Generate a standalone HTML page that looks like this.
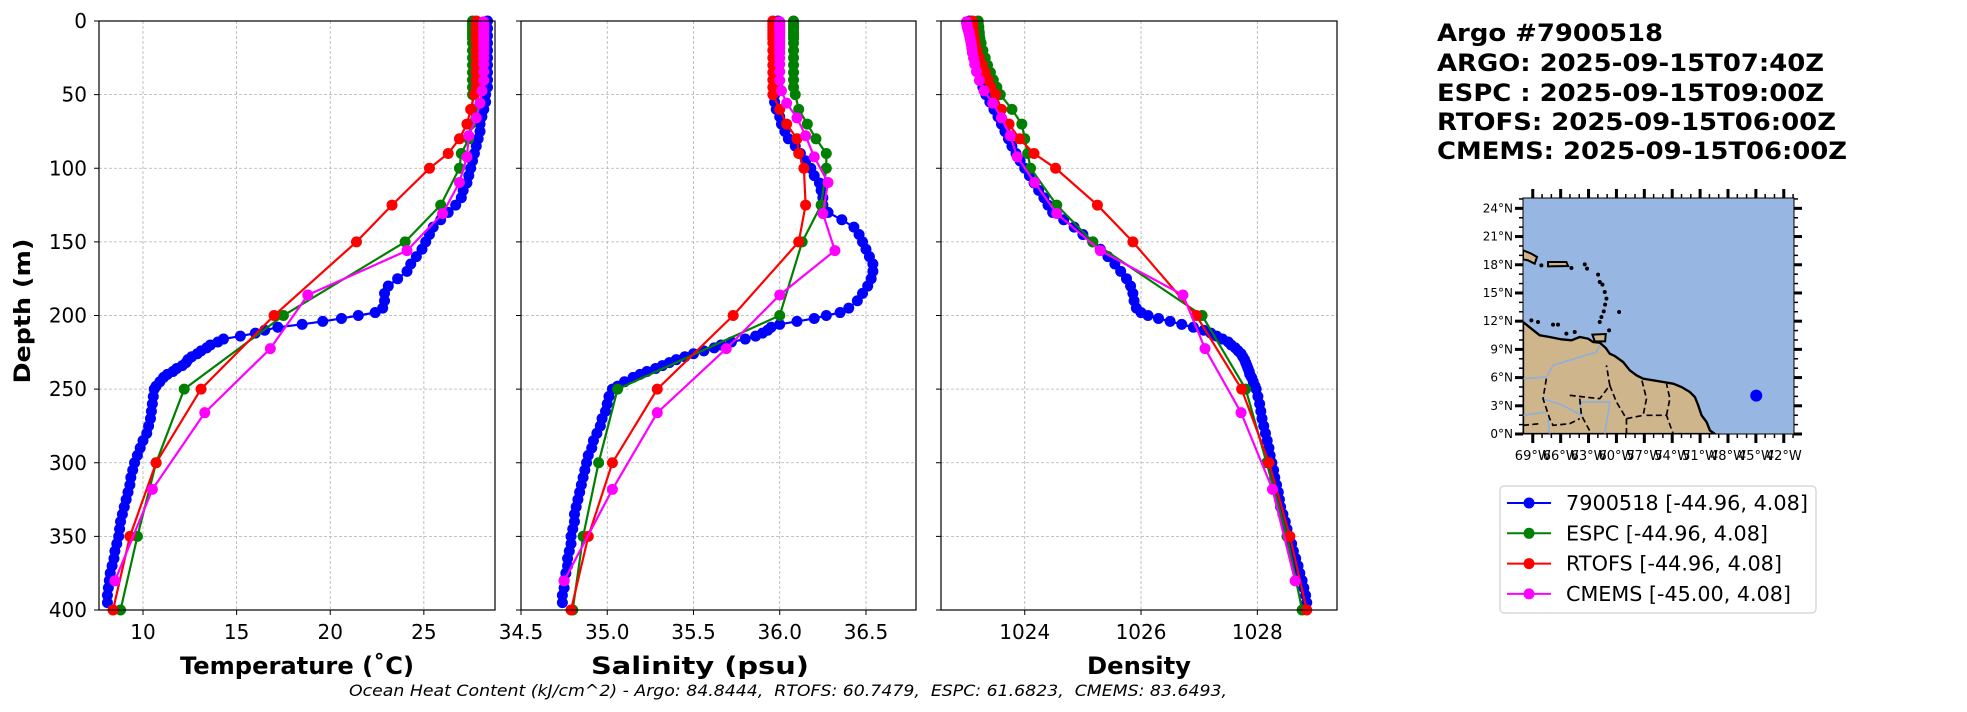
<!DOCTYPE html>
<html><head><meta charset="utf-8"><style>
html,body{margin:0;padding:0;background:#fff;}
svg{display:block;}
text{font-family:"DejaVu Sans","Liberation Sans",sans-serif;}
</style></head><body>
<svg id="fig" width="1967" height="712" viewBox="0 0 1967 712" xmlns="http://www.w3.org/2000/svg">
<rect width="1967" height="712" fill="#fff"/>
<g id="titles">
<text x="1437" y="41" font-size="24" font-weight="bold" textLength="226" lengthAdjust="spacingAndGlyphs">Argo #7900518</text>
<text x="1437" y="71" font-size="24" font-weight="bold" textLength="387" lengthAdjust="spacingAndGlyphs">ARGO: 2025-09-15T07:40Z</text>
<text x="1437" y="101" font-size="24" font-weight="bold" textLength="387" lengthAdjust="spacingAndGlyphs">ESPC : 2025-09-15T09:00Z</text>
<text x="1437" y="130" font-size="24" font-weight="bold" textLength="399" lengthAdjust="spacingAndGlyphs">RTOFS: 2025-09-15T06:00Z</text>
<text x="1437" y="159" font-size="24" font-weight="bold" textLength="410" lengthAdjust="spacingAndGlyphs">CMEMS: 2025-09-15T06:00Z</text>
</g>
<text x="349" y="696" font-size="16" font-style="italic" textLength="878" lengthAdjust="spacingAndGlyphs" xml:space="preserve">Ocean Heat Content (kJ/cm^2) - Argo: 84.8444, &#160;RTOFS: 60.7479, &#160;ESPC: 61.6823, &#160;CMEMS: 83.6493,</text>
<text x="0" y="0" font-size="22" font-weight="bold" text-anchor="middle" transform="translate(30,311) rotate(-90)" textLength="145" lengthAdjust="spacingAndGlyphs">Depth (m)</text>
<g id="panels"></g>
<g id="map"></g>
<g id="legend"></g>
</svg>
<script>
// ---------- DATA ----------
const argoDepth=[0,5,10,15,20,25,30,35,40,45,50,55,60,65,70,75,80,85,90,95,100,105,110,115,120,125,130,135,140,145,150,155,160,165,170,175,180,185,190,195,198,200,202,204,206,208,210,212,214,216,218,220,222,224,226,228,230,232,234,236,238,240,242,245,248,250,255,260,265,270,275,280,285,290,295,300,305,310,315,320,325,330,335,340,345,350,355,360,365,370,375,380,385,390,395];
const argoTemp=[28.4,28.4,28.4,28.4,28.4,28.4,28.4,28.4,28.4,28.4,28.3,28.3,28.2,28.1,28.0,28.0,27.9,27.8,27.7,27.6,27.5,27.4,27.3,27.1,27.0,26.7,26.3,25.9,25.5,25.3,25.1,24.9,24.6,24.3,24.1,23.6,23.1,22.9,22.9,22.8,22.4,21.5,20.6,19.6,18.5,17.2,16.5,16.0,15.2,14.3,14.0,13.6,13.4,13.1,12.9,12.6,12.4,12.3,12.1,11.8,11.6,11.3,11.1,10.9,10.7,10.6,10.55,10.5,10.45,10.4,10.3,10.2,10.0,9.85,9.7,9.55,9.45,9.35,9.3,9.2,9.1,9.0,8.9,8.8,8.75,8.7,8.6,8.5,8.45,8.35,8.25,8.2,8.15,8.1,8.1];
const argoSal=[35.99,35.99,35.99,35.99,35.99,35.99,35.99,35.99,35.99,35.99,35.97,35.97,35.98,36.0,36.01,36.03,36.05,36.09,36.12,36.15,36.18,36.2,36.23,36.24,36.25,36.25,36.28,36.36,36.43,36.46,36.48,36.5,36.52,36.54,36.54,36.53,36.51,36.48,36.45,36.4,36.35,36.27,36.2,36.1,36.0,35.95,35.93,35.9,35.86,35.8,35.72,35.66,35.62,35.56,35.5,35.45,35.4,35.36,35.32,35.28,35.23,35.19,35.15,35.1,35.06,35.03,35.01,35.0,34.99,34.97,34.96,34.94,34.92,34.91,34.89,34.88,34.87,34.86,34.85,34.84,34.83,34.82,34.81,34.81,34.8,34.79,34.79,34.78,34.77,34.77,34.76,34.75,34.75,34.74,34.74];
const argoDens=[1023.05,1023.06,1023.08,1023.1,1023.12,1023.14,1023.17,1023.2,1023.24,1023.28,1023.33,1023.4,1023.47,1023.54,1023.6,1023.66,1023.72,1023.78,1023.85,1023.92,1024.0,1024.08,1024.16,1024.24,1024.33,1024.4,1024.48,1024.67,1024.85,1025.0,1025.17,1025.3,1025.43,1025.55,1025.65,1025.75,1025.82,1025.86,1025.88,1025.92,1026.0,1026.12,1026.3,1026.5,1026.7,1026.9,1027.08,1027.2,1027.3,1027.4,1027.5,1027.55,1027.62,1027.67,1027.72,1027.75,1027.78,1027.8,1027.82,1027.84,1027.86,1027.87,1027.9,1027.93,1027.96,1027.98,1028.01,1028.04,1028.06,1028.08,1028.11,1028.14,1028.17,1028.2,1028.22,1028.25,1028.28,1028.3,1028.33,1028.36,1028.38,1028.4,1028.44,1028.48,1028.51,1028.55,1028.59,1028.62,1028.66,1028.7,1028.73,1028.77,1028.8,1028.83,1028.85];

const modelDepth=[0,2,4,6,8,10,12,15,20,25,30,35,40,45,50,60,70,80,90,100,125,150,200,250,300,350,400];
const espcTemp=[27.6,27.6,27.6,27.6,27.6,27.6,27.6,27.6,27.6,27.6,27.6,27.6,27.6,27.6,27.6,27.6,27.5,27.4,27.0,26.9,25.9,24.0,17.5,12.2,10.7,9.7,8.8];
const espcSal=[36.08,36.08,36.08,36.08,36.08,36.08,36.08,36.08,36.08,36.08,36.08,36.08,36.08,36.08,36.09,36.11,36.16,36.21,36.27,36.27,36.24,36.13,36.0,35.06,34.95,34.86,34.8];
const espcDens=[1023.2,1023.2,1023.21,1023.21,1023.22,1023.22,1023.23,1023.25,1023.28,1023.32,1023.36,1023.41,1023.46,1023.52,1023.58,1023.78,1023.95,1024.0,1024.05,1024.1,1024.55,1025.17,1027.05,1027.8,1028.16,1028.51,1028.77];
const rtofsTemp=[27.8,27.8,27.8,27.8,27.8,27.8,27.8,27.8,27.8,27.8,27.8,27.8,27.8,27.8,27.7,27.5,27.3,26.9,26.3,25.3,23.3,21.4,17.0,13.1,10.7,9.3,8.4];
const rtofsSal=[35.96,35.96,35.96,35.96,35.96,35.96,35.96,35.96,35.96,35.96,35.96,35.96,35.96,35.96,35.96,36.0,36.04,36.1,36.11,36.14,36.15,36.11,35.73,35.29,35.03,34.89,34.79];
const rtofsDens=[1023.1,1023.1,1023.11,1023.11,1023.12,1023.12,1023.13,1023.15,1023.18,1023.22,1023.27,1023.32,1023.37,1023.42,1023.5,1023.6,1023.73,1023.91,1024.16,1024.53,1025.25,1025.86,1026.95,1027.73,1028.2,1028.56,1028.85];

const cmemsDepth=[0.5,1.5,2.6,3.8,5.1,6.4,7.9,9.6,11.4,13.5,15.8,18.5,21.6,25.2,29.4,34.4,40.3,47.4,55.8,65.8,77.9,92.3,109.7,130.7,155.9,186.1,222.5,266.0,318.1,380.2];
const cmemsTemp=[28.2,28.2,28.2,28.2,28.2,28.2,28.2,28.2,28.2,28.2,28.2,28.2,28.2,28.2,28.2,28.2,28.2,28.1,28.0,27.8,27.4,27.3,26.9,26.0,24.1,18.8,16.8,13.3,10.5,8.5];
const cmemsSal=[36.0,36.0,36.0,36.0,36.0,36.0,36.0,36.0,36.0,36.0,36.0,36.0,36.0,36.0,36.0,36.0,36.0,36.01,36.04,36.1,36.15,36.2,36.28,36.25,36.32,36.0,35.69,35.29,35.03,34.75];
const cmemsDens=[1023.0,1023.0,1023.01,1023.01,1023.02,1023.03,1023.04,1023.05,1023.06,1023.07,1023.08,1023.09,1023.1,1023.12,1023.14,1023.17,1023.22,1023.3,1023.45,1023.6,1023.75,1023.87,1024.17,1024.55,1025.3,1026.72,1027.1,1027.72,1028.26,1028.65];

const depthTicks=[0,50,100,150,200,250,300,350,400];
const tempTicks=[10,15,20,25];
const salTicks=[34.5,35.0,35.5,36.0,36.5];
const salTickLabels=["34.5","35.0","35.5","36.0","36.5"];
const densTicks=[1024,1026,1028];
const legendLabels=["7900518 [-44.96, 4.08]","ESPC [-44.96, 4.08]","RTOFS [-44.96, 4.08]","CMEMS [-45.00, 4.08]"];
const floatLon=-44.96, floatLat=4.08;
const lonTicks=[-69,-66,-63,-60,-57,-54,-51,-48,-45,-42];
const latTicks=[0,3,6,9,12,15,18,21,24];

// ---------- HELPERS ----------
const NS="http://www.w3.org/2000/svg";
function mk(parent,tag,attrs){const e=document.createElementNS(NS,tag);for(const k in attrs)e.setAttribute(k,attrs[k]);parent.appendChild(e);return e;}
const colors={argo:"#0000ff",espc:"#008000",rtofs:"#ff0000",cmems:"#ff00ff"};
const Y0=21,Y1=610,DMAX=400;
function yS(d){return Y0+(d/DMAX)*(Y1-Y0);}

const panels=[
 {name:"temperature",x0:99,x1:495,min:7.65,max:28.8,ticks:tempTicks,labels:tempTicks.map(String),title:"Temperature (\u02daC)",tw:234,tc:297,
  series:[["argo",argoDepth,argoTemp],["espc",modelDepth,espcTemp],["rtofs",modelDepth,rtofsTemp],["cmems",cmemsDepth,cmemsTemp]]},
 {name:"salinity",x0:521,x1:916,min:34.5,max:36.79,ticks:salTicks,labels:salTickLabels,title:"Salinity (psu)",tw:218,tc:700,
  series:[["argo",argoDepth,argoSal],["espc",modelDepth,espcSal],["rtofs",modelDepth,rtofsSal],["cmems",cmemsDepth,cmemsSal]]},
 {name:"density",x0:941,x1:1337,min:1022.56,max:1029.37,ticks:densTicks,labels:densTicks.map(String),title:"Density",tw:104,tc:1139,
  series:[["argo",argoDepth,argoDens],["espc",modelDepth,espcDens],["rtofs",modelDepth,rtofsDens],["cmems",cmemsDepth,cmemsDens]]}
];
const root=document.getElementById('panels');
panels.forEach((p,pi)=>{
 const xS=v=>p.x0+(v-p.min)/(p.max-p.min)*(p.x1-p.x0);
 const g=mk(root,'g',{});
 
 
 p.ticks.forEach(t=>{
  const l=mk(g,'line',{x1:xS(t),x2:xS(t),y1:Y0,y2:Y1,stroke:'#b0b0b0','stroke-width':0.8,'stroke-dasharray':'3,2'});
  
  
 });
 depthTicks.forEach(d=>{
  const l=mk(g,'line',{x1:p.x0,x2:p.x1,y1:yS(d),y2:yS(d),stroke:'#b0b0b0','stroke-width':0.8,'stroke-dasharray':'3,2'});
  
  
  mk(g,'line',{x1:p.x0-5,x2:p.x0,y1:yS(d),y2:yS(d),stroke:'#000','stroke-width':1});
  if(pi===0){
   const t=mk(g,'text',{x:p.x0-12,y:yS(d)+7,'font-size':20,'text-anchor':'end'});
   t.textContent=d;
   
   
  }
 });
 p.ticks.forEach((t,i)=>{
  mk(g,'line',{x1:xS(t),x2:xS(t),y1:Y1,y2:Y1+5,stroke:'#000','stroke-width':1});
  const tx=mk(g,'text',{x:xS(t),y:639,'font-size':20,'text-anchor':'middle'});
  tx.textContent=p.labels[i];
  
  
 });
 const clipId='clip'+pi;
 const cp=mk(g,'clipPath',{id:clipId});
 mk(cp,'rect',{x:p.x0-8,y:Y0-8,width:p.x1-p.x0+16,height:Y1-Y0+16});
 p.series.forEach(([key,ds,vs])=>{
  const sg=mk(g,'g',{'clip-path':'url(#'+clipId+')'});
  
  
  const pts=ds.map((d,i)=>xS(vs[i]).toFixed(1)+','+yS(d).toFixed(1)).join(' ');
  mk(sg,'polyline',{points:pts,fill:'none',stroke:colors[key],'stroke-width':2.2});
  ds.forEach((d,i)=>{
   const c=mk(sg,'circle',{cx:xS(vs[i]),cy:yS(d),r:5.5,fill:colors[key]});
   
   
  });
 });
 const fr=mk(g,'rect',{x:p.x0,y:Y0,width:p.x1-p.x0,height:Y1-Y0,fill:'none',stroke:'#000','stroke-width':1.2});
 
 
 const tt=mk(g,'text',{x:p.tc,y:674,'font-size':24,'font-weight':'bold','text-anchor':'middle',textLength:p.tw,lengthAdjust:'spacingAndGlyphs'});
 tt.textContent=p.title;
 
 
});

// ---------- MAP ----------
const map=document.getElementById('map');
const MX0=1523,MX1=1794,MY0=198,MY1=434;
const lonMin=-70.05,lonMax=-40.9,latMin=0,latMax=25.1;
const mx=lon=>MX0+(lon-lonMin)/(lonMax-lonMin)*(MX1-MX0);
const my=lat=>MY1-(lat-latMin)/(latMax-latMin)*(MY1-MY0);
mk(map,'rect',{x:MX0,y:MY0,width:MX1-MX0,height:MY1-MY0,fill:'#97b6e1'});
const inner=mk(map,'svg',{x:MX0,y:MY0,width:MX1-MX0,height:MY1-MY0,viewBox:'70 38 812 708',preserveAspectRatio:'none',overflow:'hidden'});
mk(inner,'path',{d:'M70,410 L95,430 L120,450 L150,455 L185,462 L215,465 L240,455 L265,460 L280,470 L300,472 L318,488 L330,505 L345,512 L370,530 L390,555 L410,570 L430,580 L460,585 L490,590 L520,595 L545,605 L570,620 L585,635 L595,660 L605,690 L620,710 L630,735 L645,746 L70,746 Z',fill:'#cfb58c',stroke:'#000','stroke-width':7});
mk(inner,'path',{d:'M70,195 L95,205 L112,215 L105,235 L85,225 L70,222 Z',fill:'#cfb58c',stroke:'#000','stroke-width':6});
mk(inner,'path',{d:'M145,230 L200,230 L205,242 L145,243 Z',fill:'#cfb58c',stroke:'#000','stroke-width':6});
mk(inner,'path',{d:'M278,448 L318,446 L316,468 L285,468 Z',fill:'#cfb58c',stroke:'#000','stroke-width':6});
[[255,237],[262,250],[295,268],[300,290],[308,298],[315,320],[320,340],[316,358],[312,378],[305,395],[300,410],[358,380],[328,435],[95,405],[115,410],[160,418],[175,418],[200,445],[225,440],[215,248],[125,240]].forEach(([x,y])=>mk(inner,'ellipse',{cx:x,cy:y,rx:6,ry:6,fill:'#000'}));
mk(inner,'path',{d:'M70,580 L140,575 L160,540 L220,522 L290,500 L300,480 M130,640 L190,660 L245,690 L240,650 L330,650 L315,746 M70,690 L140,680 M150,746 L145,700',fill:'none',stroke:'#8fb0d8','stroke-width':5});
mk(inner,'path',{d:'M140,580 L130,640 L150,700 L160,720 L210,715 L240,700 M210,630 L300,640 L330,600 L320,540 M330,600 L350,650 L380,700 L380,746 M380,700 L430,690 L440,640 L425,580 M440,690 L500,690 L520,746 M500,690 L510,640 L500,595 M240,640 L245,690 L275,746 M70,720 L120,715',fill:'none',stroke:'#000','stroke-width':5,'stroke-dasharray':'18,10'});
const dot=mk(map,'circle',{cx:mx(floatLon),cy:my(floatLat),r:6,fill:'#0000ff'});


mk(map,'rect',{x:MX0,y:MY0,width:MX1-MX0,height:MY1-MY0,fill:'none',stroke:'#000','stroke-width':1});
latTicks.forEach(la=>{
 const y=my(la);
 mk(map,'line',{x1:MX0-8,x2:MX0,y1:y,y2:y,stroke:'#000','stroke-width':3});
 mk(map,'line',{x1:MX1,x2:MX1+8,y1:y,y2:y,stroke:'#000','stroke-width':3});
 [1,2].forEach(k=>{const yy=my(la+k);if(la+k<=25){mk(map,'line',{x1:MX0-4,x2:MX0,y1:yy,y2:yy,stroke:'#000','stroke-width':1.5});mk(map,'line',{x1:MX1,x2:MX1+4,y1:yy,y2:yy,stroke:'#000','stroke-width':1.5});}});
 const t=mk(map,'text',{x:MX0-10,y:y+4,'font-size':12,'text-anchor':'end'});
 t.textContent=la+'\u00b0N';
 
 
});
lonTicks.forEach(lo=>{
 const x=mx(lo);
 mk(map,'line',{x1:x,x2:x,y1:MY1,y2:MY1+9,stroke:'#000','stroke-width':3});
 mk(map,'line',{x1:x,x2:x,y1:MY0-9,y2:MY0,stroke:'#000','stroke-width':3});
 [1,2].forEach(k=>{const xx=mx(lo+k);if(lo+k<=-41){mk(map,'line',{x1:xx,x2:xx,y1:MY1,y2:MY1+4,stroke:'#000','stroke-width':1.5});mk(map,'line',{x1:xx,x2:xx,y1:MY0-4,y2:MY0,stroke:'#000','stroke-width':1.5});}});
 const t=mk(map,'text',{x:x,y:460,'font-size':13,'text-anchor':'middle'});
 t.textContent=(-lo)+'\u00b0W';
 
 
});

// ---------- LEGEND ----------
const lg=document.getElementById('legend');
mk(lg,'rect',{x:1500,y:486,width:316,height:127,rx:4,fill:'#fff',stroke:'#d0d0d0','stroke-width':1.2});
const legKeys=['argo','espc','rtofs','cmems'];
const legW=[242,202,216,225];
legendLabels.forEach((lab,i)=>{
 const y=503+i*30.3;
 const eg=mk(lg,'g',{});
 
 
 mk(eg,'line',{x1:1507,x2:1551,y1:y,y2:y,stroke:colors[legKeys[i]],'stroke-width':2});
 mk(eg,'circle',{cx:1529,cy:y,r:5.5,fill:colors[legKeys[i]]});
 const t=mk(eg,'text',{x:1566,y:y+7,'font-size':20,textLength:legW[i],lengthAdjust:'spacingAndGlyphs'});
 t.textContent=lab;
});
</script>
</body></html>
